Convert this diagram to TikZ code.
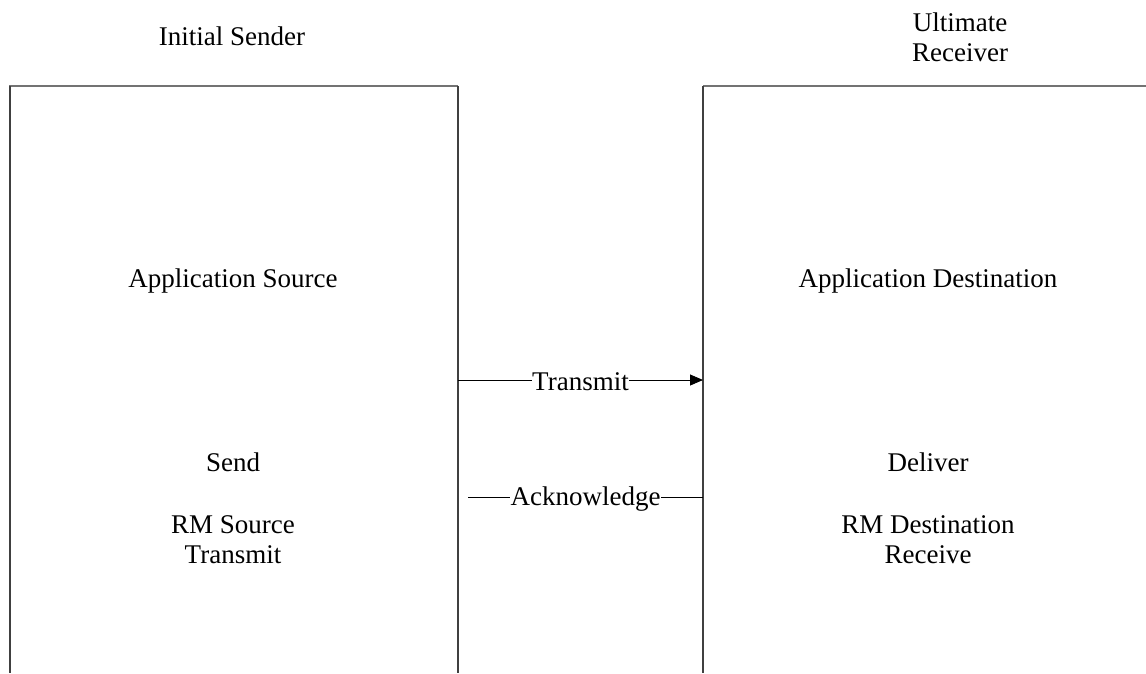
\documentclass[tikz,border=0pt]{standalone}
\usepackage{fontspec}
\setmainfont{Liberation Serif}
\usetikzlibrary{arrows.meta}
\begin{document}
\begin{tikzpicture}[x=1pt,y=-1pt,
  lbl/.style={font=\fontsize{27}{30}\selectfont, align=center, inner sep=1pt},
  wall/.style={draw=black!75, line width=1.2pt},
  topline/.style={draw=black!55, line width=1.5pt},
  conn/.style={draw=black, line width=0.9pt},
  cutlbl/.style={lbl, fill=white, inner sep=0.5pt, yshift=-2pt}]
\useasboundingbox (0,0) rectangle (1146,673);
% boxes
\draw[topline] (9,86) -- (458,86);
\draw[wall] (10,86) -- (10,673);
\draw[wall] (458,86) -- (458,673);
\draw[topline] (703,86) -- (1146,86);
\draw[wall] (703,86) -- (703,673);
% headers
\node[lbl] (sender) at (232,36) {Initial Sender};
\node[lbl] (receiver) at (960,37) {Ultimate\\Receiver};
% left labels
\node[lbl] (appsrc) at (233,281) {Application Source};
\node[lbl] (send) at (233,462) {Send};
\node[lbl] (rmsrc) at (233,540) {RM Source\\Transmit};
% right labels
\node[lbl] (appdst) at (928,281) {Application Destination};
\node[lbl] (deliver) at (928,462) {Deliver};
\node[lbl] (rmdst) at (928,540) {RM Destination\\Receive};
% connectors
\coordinate (t1) at (458,380);
\coordinate (t2) at (703,380);
\coordinate (a1) at (468,497);
\coordinate (a2) at (703,497);
\draw[conn, -{Triangle[length=13pt,width=11pt]}] (t1) -- node[cutlbl] (tlab) {Transmit} (t2);
\draw[conn] (a2) -- node[cutlbl] (alab) {Acknowledge} (a1);
\end{tikzpicture}
\end{document}
